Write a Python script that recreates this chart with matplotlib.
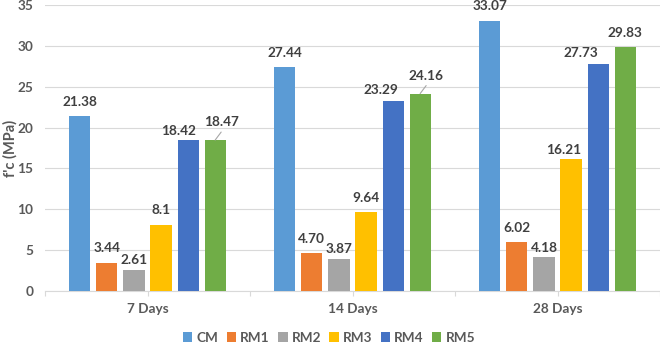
import matplotlib
matplotlib.use('Agg')
import matplotlib.pyplot as plt
import numpy as np

categories = ['7 Days', '14 Days', '28 Days']
series = ['CM', 'RM1', 'RM2', 'RM3', 'RM4', 'RM5']
cm = [21.38, 27.44, 33.07]
rm1 = [3.44, 4.70, 6.02]
rm2 = [2.61, 3.87, 4.18]
rm3 = [8.1, 9.64, 16.21]
rm4 = [18.42, 23.29, 27.73]
rm5 = [18.47, 24.16, 29.83]
labels_cm = ['21.38', '27.44', '33.07']
labels_rm1 = ['3.44', '4.70', '6.02']
labels_rm2 = ['2.61', '3.87', '4.18']
labels_rm3 = ['8.1', '9.64', '16.21']
labels_rm4 = ['18.42', '23.29', '27.73']
labels_rm5 = ['18.47', '24.16', '29.83']
y_ticks = [0, 5, 10, 15, 20, 25, 30, 35]

values = [cm, rm1, rm2, rm3, rm4, rm5]
texts = [labels_cm, labels_rm1, labels_rm2, labels_rm3, labels_rm4, labels_rm5]
colors = ['#5B9BD5', '#ED7D31', '#A5A5A5', '#FFC000', '#4472C4', '#70AD47']
# label offsets in pixels (dx, dy) per series per category
offsets = [
    [(0, 10), (0, 10), (0, 11)],
    [(0, 11), (0, 10), (0, 10)],
    [(0, 6), (0, 6), (0, 5)],
    [(0, 11), (0, 10), (-7, 5)],
    [(-10, 5), (-12, 7), (-17, 7)],
    [(6, 14), (6, 14), (0, 10)],
]
leaders = [[False] * 3, [False] * 3, [False] * 3, [False] * 3, [False] * 3,
           [True, True, False]]

plt.rcParams['font.family'] = ['Lato', 'DejaVu Sans']

fig = plt.figure(figsize=(6.6, 3.43), dpi=100)
ax = fig.add_axes([45 / 660, 52 / 343, 615 / 660, 286 / 343])

x = np.arange(len(categories))
width = 0.103
pitch = 0.132
for i, (name, vals) in enumerate(zip(series, values)):
    pos = x + (i - 2.5) * pitch
    ax.bar(pos, vals, width=width, color=colors[i], label=name, zorder=3)
    for j, (p, v) in enumerate(zip(pos, vals)):
        dx, dy = offsets[i][j]
        ax.annotate(texts[i][j], xy=(p, v), xytext=(dx, dy), textcoords='offset pixels',
                    ha='center', va='baseline', fontsize=9.8, fontweight='bold',
                    color='#404040', zorder=5)
        if leaders[i][j]:
            ax.annotate('', xy=(p, v), xytext=(dx, dy - 6), textcoords='offset pixels',
                        arrowprops=dict(arrowstyle='-', color='#A6A6A6', lw=0.8,
                                        shrinkA=0, shrinkB=0))

ax.set_xlim(-0.5, 2.5)
ax.set_ylim(0, 35)
ax.set_yticks(y_ticks)
ax.set_xticks(x)
ax.set_xticklabels(categories)
ax.set_xticks([-0.5, 0.5, 1.5, 2.5], minor=True)
ax.grid(axis='y', color='#D9D9D9', lw=0.8, zorder=0)
for s in ['top', 'right', 'left']:
    ax.spines[s].set_visible(False)
ax.spines['bottom'].set_color('#D9D9D9')
ax.spines['bottom'].set_linewidth(0.8)
ax.tick_params(axis='y', length=0, pad=8.5, labelsize=9.8, labelcolor='#595959')
ax.tick_params(axis='x', which='both', length=3.6, color='#D9D9D9', width=0.8,
               pad=5, labelsize=9.8, labelcolor='#595959')
for lab in ax.get_xticklabels() + ax.get_yticklabels():
    lab.set_fontweight('bold')

fig.text(10 / 660, 195 / 343, "f'c (MPa)", rotation=90, ha='center', va='center',
         fontsize=10.5, fontweight='bold', color='#595959')

leg = fig.legend(loc='center', bbox_to_anchor=(329 / 660, 0.016), ncol=6, frameon=False,
                 handlelength=0.7, handleheight=0.7, handletextpad=0.3,
                 columnspacing=0.6, fontsize=9.8, borderpad=0.1)
for t in leg.get_texts():
    t.set_color('#595959')
    t.set_fontweight('bold')

fig.savefig('out.png', dpi=100)
